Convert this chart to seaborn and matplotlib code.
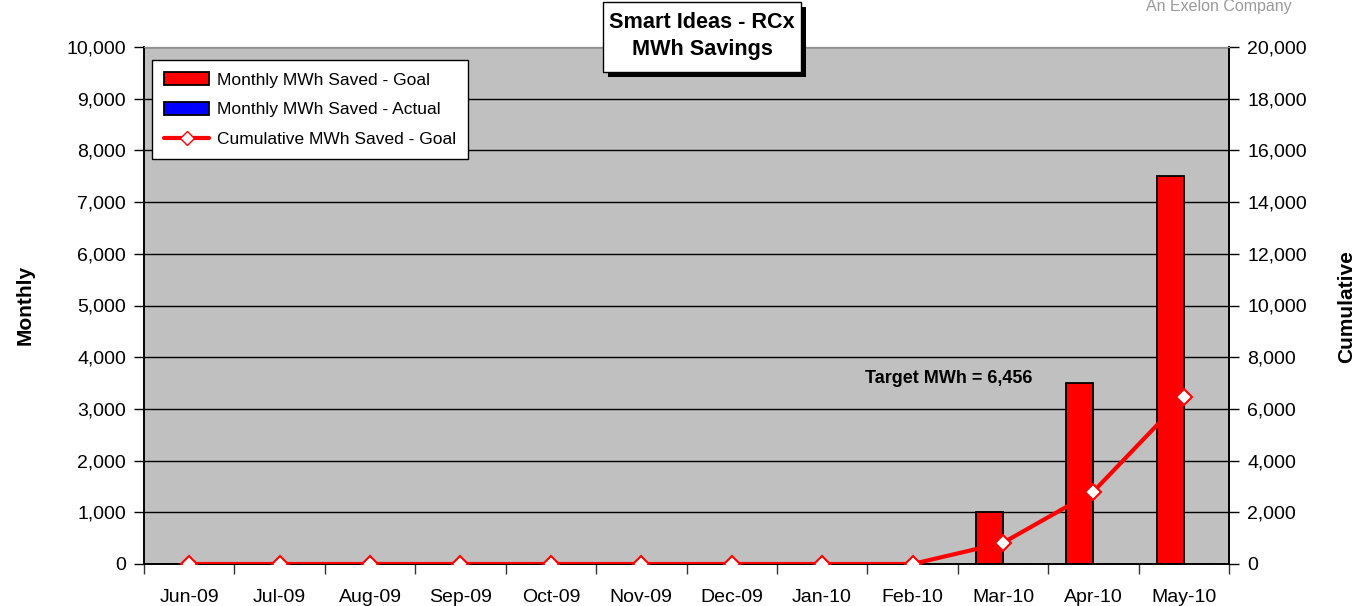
import numpy as np
import pandas as pd
import matplotlib
matplotlib.use('Agg')
from matplotlib import pyplot as plt
from matplotlib.lines import Line2D
from matplotlib.patches import Patch, Rectangle
import seaborn as sns

# - data ----------------------------------------------------------------------
months = ['Jun-09', 'Jul-09', 'Aug-09', 'Sep-09', 'Oct-09', 'Nov-09',
          'Dec-09', 'Jan-10', 'Feb-10', 'Mar-10', 'Apr-10', 'May-10']
monthly_goal = [0, 0, 0, 0, 0, 0, 0, 0, 0, 1000, 3500, 7500]
monthly_actual = [0, 0, 0, 0, 0, 0, 0, 0, 0, 0, 0, 0]
cumulative_goal = [0, 0, 0, 0, 0, 0, 0, 0, 0, 820, 2800, 6456]
left_ticks = list(range(0, 10001, 1000))
right_ticks = list(range(0, 20001, 2000))

names = ['Monthly MWh Saved - Goal', 'Monthly MWh Saved - Actual',
         'Cumulative MWh Saved - Goal']

df = pd.DataFrame({'month': months * 2,
                   'value': monthly_goal + monthly_actual,
                   'series': [names[0]] * 12 + [names[1]] * 12})

# - plot ----------------------------------------------------------------------
sns.set_style('white')
plt.rcParams['font.family'] = ['Liberation Sans', 'DejaVu Sans']
plt.rcParams['text.color'] = 'black'
plt.rcParams['xtick.color'] = 'black'
plt.rcParams['ytick.color'] = 'black'
plt.rcParams['axes.labelcolor'] = 'black'

W, H = 1369, 606
fig = plt.figure(figsize=(W / 100, H / 100), dpi=100)
ax = fig.add_axes([144 / W, 1 - 564 / H, (1229 - 144) / W, 517 / H])
ax.set_facecolor('#c0c0c0')

sns.barplot(data=df, x='month', y='value', hue='series', order=months,
            hue_order=names[:2], palette=['#ff0000', '#0000ff'], width=0.6,
            edgecolor='black', linewidth=1.3, saturation=1, legend=False,
            ax=ax, zorder=2)

ax.set_ylim(0, 10000)
ax.set_xlim(-0.5, 11.5)
ax.set_yticks(left_ticks)
ax.set_yticklabels([f'{v:,}' for v in left_ticks])
ax.yaxis.grid(True, color='black', linewidth=1)
ax.set_axisbelow(True)
ax.set_xlabel('')
ax.set_ylabel('')
ax.tick_params(axis='y', which='major', direction='out', length=7, width=1,
               color='black', labelsize=14, pad=6, left=True)
ax.set_xticks(np.arange(-0.5, 12, 1), minor=True)
ax.tick_params(axis='x', which='major', length=0, labelsize=14, pad=18)
ax.tick_params(axis='x', which='minor', direction='out', length=7, width=1,
               color='#333333', bottom=True)
for side in ['left', 'bottom', 'right']:
    ax.spines[side].set_color('black')
    ax.spines[side].set_linewidth(1.2)
ax.spines['top'].set_color('#909090')

ax2 = ax.twinx()
sns.lineplot(x=np.arange(12), y=cumulative_goal, ax=ax2, color='#ff0000',
             linewidth=3, marker='D', markersize=8, markerfacecolor='white',
             markeredgecolor='#ff0000', markeredgewidth=1.5, zorder=3)
ax2.set_ylim(0, 20000)
ax2.set_xlim(-0.5, 11.5)
ax2.set_yticks(right_ticks)
ax2.set_yticklabels([f'{v:,}' for v in right_ticks])
ax2.tick_params(axis='y', direction='out', length=7, width=1, color='black',
                labelsize=14, pad=6, right=True)
for side in ['left', 'bottom', 'right']:
    ax2.spines[side].set_color('black')
    ax2.spines[side].set_linewidth(1.2)
ax2.spines['top'].set_color('#909090')

ax2.text(8.4, 7195, 'Target MWh = 6,456', ha='center', va='center',
         fontsize=13, fontweight='bold')

handles = [Patch(facecolor='#ff0000', edgecolor='black', linewidth=1.3),
           Patch(facecolor='#0000ff', edgecolor='black', linewidth=1.3),
           Line2D([], [], color='#ff0000', linewidth=3, marker='D',
                  markersize=7, markerfacecolor='white',
                  markeredgecolor='#ff0000')]
leg = ax2.legend(handles, names, loc='upper left',
                 bbox_to_anchor=(8 / 1085, 1 - 13 / 517), fontsize=12.5,
                 frameon=True, fancybox=False, edgecolor='black',
                 framealpha=1, borderpad=0.7, labelspacing=0.82,
                 handlelength=2.6, handleheight=0.75, handletextpad=0.45,
                 borderaxespad=0)
leg.get_frame().set_linewidth(1)

# title box with drop shadow
bx0, bx1, by0, by1 = 603, 801, 2, 72
fig.patches.append(Rectangle(((bx0 + 5) / W, 1 - (by1 + 5) / H),
                             (bx1 - bx0) / W, (by1 - by0) / H,
                             transform=fig.transFigure, facecolor='black',
                             edgecolor='none', zorder=9))
fig.patches.append(Rectangle((bx0 / W, 1 - by1 / H),
                             (bx1 - bx0) / W, (by1 - by0) / H,
                             transform=fig.transFigure, facecolor='white',
                             edgecolor='black', linewidth=1, zorder=10))
for line, yc in [('Smart Ideas - RCx', 22), ('MWh Savings', 50)]:
    fig.text(702 / W, 1 - yc / H, line, ha='center', va='center',
             fontsize=15.6, fontweight='bold',
             family=['Liberation Sans Narrow', 'Liberation Sans'], zorder=11)

fig.text(1292 / W, 1 - 7 / H, 'An Exelon Company', ha='right',
         va='center', fontsize=11.5, color='#9a9a9a',
         family=['Liberation Sans Narrow', 'Liberation Sans'])

fig.text(25 / W, 1 - 305 / H, 'Monthly', rotation=90, ha='center',
         va='center', fontsize=15, fontweight='bold')
fig.text(1347 / W, 1 - 307 / H, 'Cumulative', rotation=90, ha='center',
         va='center', fontsize=15, fontweight='bold')

plt.savefig('out.png', dpi=100)
